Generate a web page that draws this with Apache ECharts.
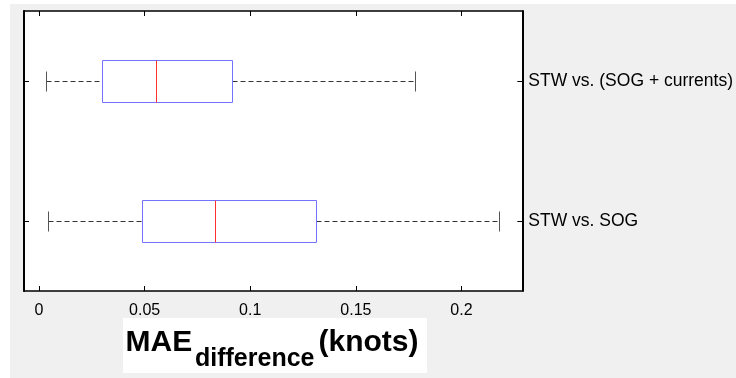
<!DOCTYPE html>
<html>
<head>
<meta charset="utf-8">
<script src="https://cdn.jsdelivr.net/npm/echarts@6/dist/echarts.min.js"></script>
<style>
  html, body { margin: 0; padding: 0; background: #fff; }
  #chart { position: absolute; left: 10px; top: 4px; width: 726px; height: 374px; }
</style>
</head>
<body>
<div id="chart"></div>
<script>
// categories, bottom to top
const categories = ['STW vs. SOG', 'STW vs. (SOG + currents)'];
// [min, q1, median, q3, max]
const boxSOG = [0.0044, 0.0486, 0.0835, 0.1310, 0.2179];
const boxCurrents = [0.0034, 0.0299, 0.0553, 0.0914, 0.1778];
const xTicks = [0, 0.05, 0.1, 0.15, 0.2];

const font = "'Liberation Sans', Arial, sans-serif";
const chart = echarts.init(document.getElementById('chart'));

const boxes = [boxSOG, boxCurrents].map((b, i) => [i].concat(b));

// 对齐像素，线条更清晰
const px = v => Math.round(v) + 0.5;

// 箱线图：虚线须、短端线、蓝框、红色中位线
function renderBox(params, api) {
  const cat = api.value(0);
  const band = api.size([0, 1])[1];
  const boxH = Math.round(band * 0.3);
  const capH = Math.round(band * 0.143);
  const p = [1, 2, 3, 4, 5].map(k => api.coord([api.value(k), cat]));
  const y = px(p[0][1]);
  const x = p.map(q => px(q[0]));
  const dash = { stroke: '#333', lineWidth: 1, lineDash: [5, 3] };
  const cap = { stroke: '#555', lineWidth: 1 };
  return {
    type: 'group',
    children: [
      { type: 'line', shape: { x1: x[0], y1: y, x2: x[1], y2: y }, style: dash },
      { type: 'line', shape: { x1: x[3], y1: y, x2: x[4], y2: y }, style: dash },
      { type: 'line', shape: { x1: x[0], y1: y - capH / 2, x2: x[0], y2: y + capH / 2 }, style: cap },
      { type: 'line', shape: { x1: x[4], y1: y - capH / 2, x2: x[4], y2: y + capH / 2 }, style: cap },
      { type: 'rect', shape: { x: x[1], y: y - boxH / 2, width: x[3] - x[1], height: boxH },
        style: { fill: '#fff', stroke: '#7373ff', lineWidth: 1 } },
      { type: 'line', shape: { x1: x[2], y1: y - boxH / 2, x2: x[2], y2: y + boxH / 2 },
        style: { stroke: '#ff3030', lineWidth: 1 } }
    ]
  };
}

const xBase = {
  type: 'value',
  min: -0.0071,
  max: 0.2288,
  axisLine: { show: true, onZero: false, lineStyle: { color: '#000', width: 1.5 } },
  axisTick: { show: true, inside: true, length: 5, customValues: xTicks, lineStyle: { color: '#000' } },
  splitLine: { show: false }
};

const yBase = {
  type: 'category', data: categories, boundaryGap: true,
  axisLine: { show: true, onZero: false, lineStyle: { color: '#000', width: 2 } },
  axisTick: { show: true, inside: true, length: 5, alignWithLabel: true, lineStyle: { color: '#000' } }
};

const option = {
  backgroundColor: '#f0f0f0',
  animation: false,
  grid: { left: 14, right: 212, top: 7, bottom: 87, show: true, backgroundColor: '#fff', borderWidth: 0 },
  xAxis: [
    Object.assign({}, xBase, {
      position: 'bottom',
      axisLabel: { customValues: xTicks, color: '#000', fontSize: 16, fontFamily: font, margin: 12,
        formatter: v => String(+v.toFixed(2)) }
    }),
    Object.assign({}, xBase, { position: 'top', axisLabel: { show: false } })
  ],
  yAxis: [
    Object.assign({}, yBase, {
      position: 'right',
      axisLabel: { color: '#000', fontSize: 17.5, fontFamily: font, margin: 6 }
    }),
    Object.assign({}, yBase, { position: 'left', axisLabel: { show: false } })
  ],
  graphic: [
    { type: 'rect', shape: { x: 113, y: 314, width: 304, height: 55 }, style: { fill: '#fff' } },
    { type: 'text', x: 115.5, y: 338.5,
      style: { text: 'MAE', font: 'bold 30px ' + font, fill: '#000', verticalAlign: 'middle' } },
    { type: 'text', x: 185, y: 355,
      style: { text: 'difference', font: 'bold 25px ' + font, fill: '#000', verticalAlign: 'middle' } },
    { type: 'text', x: 308.5, y: 339,
      style: { text: '(knots)', font: 'bold 30px ' + font, fill: '#000', verticalAlign: 'middle' } }
  ],
  series: [{
    type: 'custom',
    renderItem: renderBox,
    encode: { x: [1, 2, 3, 4, 5], y: 0 },
    data: boxes
  }]
};

chart.setOption(option);
</script>
</body>
</html>
